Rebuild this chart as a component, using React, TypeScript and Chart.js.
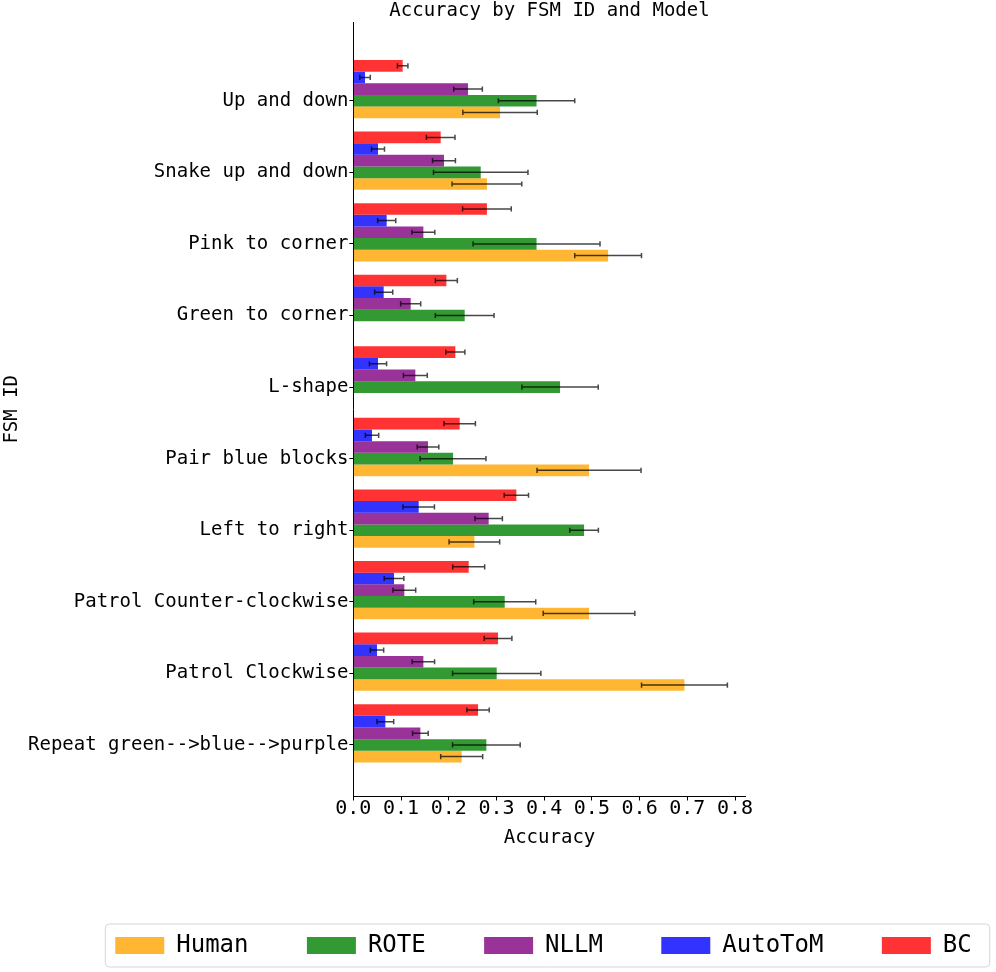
import React, { useEffect, useRef } from 'react';
import { Chart, registerables } from 'chart.js';

Chart.register(...registerables);

// ---------- data ----------
const categories = [
  'Up and down',
  'Snake up and down',
  'Pink to corner',
  'Green to corner',
  'L-shape',
  'Pair blue blocks',
  'Left to right',
  'Patrol Counter-clockwise',
  'Patrol Clockwise',
  'Repeat green-->blue-->purple',
];

const xTickValues = [0, 0.1, 0.2, 0.3, 0.4, 0.5, 0.6, 0.7, 0.8];

const humanValues = [0.3075, 0.28, 0.534, null, null, 0.494, 0.2537, 0.494, 0.694, 0.2271];
const humanErrors = [0.078, 0.073, 0.07, null, null, 0.109, 0.053, 0.096, 0.09, 0.044];

const roteValues = [0.384, 0.267, 0.384, 0.2334, 0.4333, 0.209, 0.4836, 0.3173, 0.3005, 0.2788];
const roteErrors = [0.08, 0.099, 0.133, 0.0615, 0.08, 0.069, 0.03, 0.065, 0.0926, 0.0709];

const nllmValues = [0.2404, 0.19, 0.1468, 0.1202, 0.13, 0.1565, 0.2837, 0.1069, 0.1468, 0.1405];
const nllmErrors = [0.03, 0.024, 0.024, 0.021, 0.025, 0.0227, 0.0287, 0.0238, 0.0235, 0.0164];

const autotomValues = [0.0245, 0.0517, 0.0699, 0.0636, 0.0517, 0.0391, 0.137, 0.0853, 0.0496, 0.0671];
const autotomErrors = [0.011, 0.0136, 0.019, 0.019, 0.018, 0.014, 0.033, 0.0206, 0.014, 0.0175];

const bcValues = [0.1034, 0.1831, 0.28, 0.195, 0.2138, 0.2229, 0.3417, 0.2418, 0.3033, 0.2614];
const bcErrors = [0.011, 0.03, 0.051, 0.023, 0.02, 0.033, 0.0255, 0.0335, 0.029, 0.0234];

const FONT = 'DejaVu Sans Mono';

function toPoints(values: (number | null)[]) {
  return values.map((v, i) => ({ x: v, y: i }));
}

// ---------- plugins ----------
const errorBarPlugin = {
  id: 'errorBars',
  afterDatasetsDraw(chart: any) {
    const ctx = chart.ctx;
    const xs = chart.scales.x;
    chart.data.datasets.forEach((ds: any, di: number) => {
      const errs = ds.errors;
      if (!errs) return;
      const meta = chart.getDatasetMeta(di);
      meta.data.forEach((el: any, i: number) => {
        const v = ds.data[i]?.x;
        const e = errs[i];
        if (v == null || e == null) return;
        const y = el.y;
        const x1 = xs.getPixelForValue(v - e);
        const x2 = xs.getPixelForValue(v + e);
        const cap = 2.6;
        ctx.save();
        ctx.strokeStyle = 'rgba(0,0,0,0.72)';
        ctx.lineWidth = 1.5;
        ctx.beginPath();
        ctx.moveTo(x1, y);
        ctx.lineTo(x2, y);
        ctx.moveTo(x1, y - cap);
        ctx.lineTo(x1, y + cap);
        ctx.moveTo(x2, y - cap);
        ctx.lineTo(x2, y + cap);
        ctx.stroke();
        ctx.restore();
      });
    });
  },
};

const legendPlacePlugin = {
  id: 'legendPlace',
  afterLayout(chart: any) {
    const lg = chart.legend;
    const ca = chart.chartArea;
    if (!lg || !ca) return;
    const shift = (ca.left + ca.right) / 2 - (lg.left + lg.right) / 2 - 6;
    lg.left += shift;
    lg.right += shift;
  },
  beforeDraw(chart: any) {
    const lg = chart.legend;
    if (!lg || !lg.legendHitBoxes || !lg.legendHitBoxes.length) return;
    const hb = lg.legendHitBoxes;
    const first = hb[0];
    const last = hb[hb.length - 1];
    const cy = first.top + first.height / 2;
    const x0 = first.left - 10;
    const x1 = last.left + last.width + 18;
    const y0 = cy - 21.5;
    const y1 = cy + 21.5;
    const r = 4;
    const ctx = chart.ctx;
    ctx.save();
    ctx.beginPath();
    ctx.moveTo(x0 + r, y0);
    ctx.lineTo(x1 - r, y0);
    ctx.arcTo(x1, y0, x1, y0 + r, r);
    ctx.lineTo(x1, y1 - r);
    ctx.arcTo(x1, y1, x1 - r, y1, r);
    ctx.lineTo(x0 + r, y1);
    ctx.arcTo(x0, y1, x0, y1 - r, r);
    ctx.lineTo(x0, y0 + r);
    ctx.arcTo(x0, y0, x0 + r, y0, r);
    ctx.closePath();
    ctx.fillStyle = '#ffffff';
    ctx.fill();
    ctx.strokeStyle = '#d6d6d6';
    ctx.lineWidth = 1;
    ctx.stroke();
    ctx.restore();
  },
};

export default function App() {
  const ref = useRef<HTMLCanvasElement>(null);

  useEffect(() => {
    document.body.style.margin = '0';
    document.documentElement.style.overflow = 'hidden';
    if (!ref.current) return;

    const barOpts = { borderWidth: 0, categoryPercentage: 1.14, barPercentage: 1 };

    const chart = new Chart(ref.current, {
      type: 'bar',
      data: {
        datasets: [
          { label: 'BC', data: toPoints(bcValues), errors: bcErrors, backgroundColor: 'rgba(255,0,0,0.8)', ...barOpts },
          { label: 'AutoToM', data: toPoints(autotomValues), errors: autotomErrors, backgroundColor: 'rgba(0,0,255,0.8)', ...barOpts },
          { label: 'NLLM', data: toPoints(nllmValues), errors: nllmErrors, backgroundColor: 'rgba(128,0,128,0.8)', ...barOpts },
          { label: 'ROTE', data: toPoints(roteValues), errors: roteErrors, backgroundColor: 'rgba(0,128,0,0.8)', ...barOpts },
          { label: 'Human', data: toPoints(humanValues), errors: humanErrors, backgroundColor: 'rgba(255,165,0,0.8)', ...barOpts },
          { label: '', data: [], backgroundColor: 'rgba(0,0,0,0)', ...barOpts },
          { label: '', data: [], backgroundColor: 'rgba(0,0,0,0)', ...barOpts },
        ] as any,
      },
      options: {
        indexAxis: 'y',
        responsive: false,
        animation: false,
        events: [],
        layout: { padding: { bottom: 4.5 } },
        scales: {
          x: {
            type: 'linear',
            position: 'bottom',
            min: 0,
            max: 0.8223,
            afterBuildTicks: (s: any) => {
              s.ticks = xTickValues.map((v) => ({ value: v }));
            },
            ticks: {
              font: { family: FONT, size: 20, lineHeight: 0.8 },
              color: '#000',
              padding: 0,
              autoSkip: false,
              maxRotation: 0,
              callback: (v: any) => Number(v).toFixed(1),
            },
            grid: { display: true, drawOnChartArea: false, drawTicks: true, tickLength: 4, color: '#000' },
            border: { display: true, color: '#000', width: 1 },
            title: {
              display: true,
              text: 'Accuracy',
              font: { family: FONT, size: 19, lineHeight: 1.2 },
              color: '#000',
              padding: { top: 9.7, bottom: 26.1 },
            },
          },
          y: {
            type: 'linear',
            position: 'left',
            reverse: true,
            offset: false,
            min: -1.1,
            max: 9.72,
            afterBuildTicks: (s: any) => {
              s.ticks = categories.map((_, i) => ({ value: i }));
            },
            afterFit: (s: any) => {
              s.width = 353.33;
            },
            ticks: {
              font: { family: FONT, size: 19 },
              color: '#000',
              padding: 1,
              autoSkip: false,
              callback: (v: any) => categories[Math.round(Number(v))] ?? '',
            },
            grid: { display: true, offset: false, drawOnChartArea: false, drawTicks: true, tickLength: 4, color: '#000' },
            border: { display: true, color: '#000', width: 1 },
            title: {
              display: true,
              text: 'FSM ID',
              font: { family: FONT, size: 19, lineHeight: 1.2 },
              color: '#000',
              padding: { top: 1, bottom: 0 },
            },
          },
          yRight: {
            type: 'linear',
            position: 'right',
            display: true,
            afterFit: (s: any) => {
              s.width = 250.33;
            },
            ticks: { display: false },
            grid: { display: false },
            border: { display: false },
          },
        } as any,
        plugins: {
          title: {
            display: true,
            text: 'Accuracy by FSM ID and Model',
            fullSize: false,
            color: '#000',
            font: { family: FONT, size: 19, weight: 'normal', lineHeight: 1.16 },
            padding: { top: 0, bottom: 0 },
          },
          legend: {
            display: true,
            position: 'bottom',
            align: 'center',
            reverse: true,
            labels: {
              filter: (item: any) => item.text !== '',
              boxWidth: 49,
              boxHeight: 17,
              padding: 58.4,
              color: '#000',
              font: { family: FONT, size: 24 },
            },
          },
          tooltip: { enabled: false },
        },
      } as any,
      plugins: [errorBarPlugin, legendPlacePlugin],
    } as any);

    return () => chart.destroy();
  }, []);

  return (
    <canvas
      ref={ref}
      width={996}
      height={972}
      style={{ display: 'block', width: 996, height: 972 }}
    />
  );
}
